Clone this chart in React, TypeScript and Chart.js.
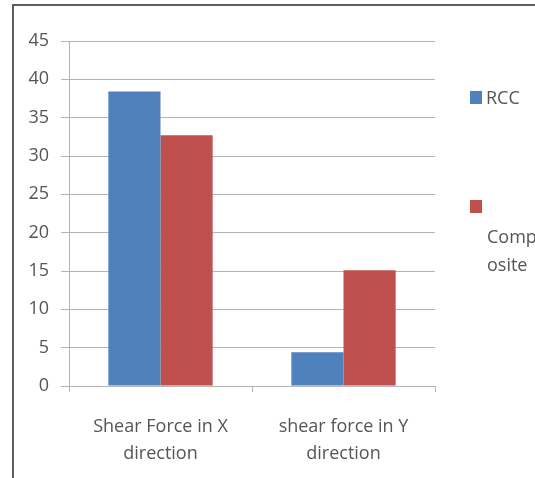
import React, { useEffect, useRef } from "react";
import { Chart, registerables } from "chart.js";

Chart.register(...registerables);

// Shear force comparison, RCC vs composite structure
const categories: string[][] = [
  ["Shear Force in X", "direction"],
  ["shear force in Y", "direction"],
];
const seriesNames = ["RCC", "Composite"];
const rccValues = [38.4, 4.4];
const compositeValues = [32.7, 15.1];
const yMin = 0;
const yMax = 45;
const yStep = 5;

const BLUE = "#4F81BD";
const RED = "#C0504D";
const TEXT = "#555555";
const GRID = "#b4b4b4";
const FONT = "'Open Sans', sans-serif";

// Break a label into lines that fit a maximum width, splitting inside words if needed
function wrapChars(ctx: CanvasRenderingContext2D, text: string, maxWidth: number): string[] {
  const lines: string[] = [];
  let cur = "";
  for (const ch of text) {
    if (cur && ctx.measureText(cur + ch).width > maxWidth) {
      lines.push(cur);
      cur = ch;
    } else {
      cur += ch;
    }
  }
  if (cur) lines.push(cur);
  return lines;
}

const framePlugin = {
  id: "frame",
  beforeDraw(chart: Chart) {
    const ctx = chart.ctx;
    ctx.save();
    ctx.fillStyle = "#ffffff";
    ctx.fillRect(0, 0, chart.width, chart.height);
    ctx.fillStyle = "#5e5e5e";
    ctx.fillRect(12, 4, 2, chart.height - 4);
    ctx.fillRect(12, 4, chart.width - 12, 2);
    ctx.restore();
  },
};

const sideLegendPlugin = {
  id: "sideLegend",
  afterDraw(chart: Chart) {
    const ctx = chart.ctx;
    ctx.save();
    ctx.font = `18px ${FONT}`;
    ctx.textBaseline = "alphabetic";
    ctx.textAlign = "left";
    const x = 470;
    const swatch = 12;
    chart.data.datasets.forEach((ds) => {
      const color = ds.backgroundColor as string;
      const lines = wrapChars(ctx, String(ds.label), 50);
      if (lines.length === 1) {
        const y = 91;
        ctx.fillStyle = color;
        ctx.fillRect(x, y, swatch, swatch + 1);
        ctx.fillStyle = TEXT;
        ctx.fillText(lines[0], x + 16, y + 13);
      } else {
        const y = 200;
        ctx.fillStyle = color;
        ctx.fillRect(x, y, swatch, swatch + 1);
        ctx.fillStyle = TEXT;
        lines.forEach((ln, k) => ctx.fillText(ln, x + 17, 243 + k * 28));
      }
    });
    ctx.restore();
  },
};

export default function App() {
  const ref = useRef<HTMLCanvasElement>(null);

  useEffect(() => {
    if (!ref.current) return;
    const chart = new Chart(ref.current, {
      type: "bar",
      data: {
        labels: categories,
        datasets: [
          { label: seriesNames[0], data: rccValues, backgroundColor: BLUE },
          { label: seriesNames[1], data: compositeValues, backgroundColor: RED },
        ],
      },
      options: {
        animation: false,
        responsive: false,
        maintainAspectRatio: false,
        datasets: { bar: { categoryPercentage: 0.57, barPercentage: 1 } },
        layout: { padding: { left: 14, top: 41, right: 100, bottom: 0 } },
        plugins: { legend: { display: false }, tooltip: { enabled: false } },
        scales: {
          x: {
            offset: true,
            grid: {
              offset: true,
              drawOnChartArea: false,
              drawTicks: true,
              tickLength: 6,
              color: GRID,
            },
            border: { display: true, color: GRID },
            ticks: {
              color: TEXT,
              font: { family: FONT, size: 18, lineHeight: 1.5 },
              padding: 21,
              maxRotation: 0,
              autoSkip: false,
            },
            afterFit(scale: any) {
              scale.height = 92;
            },
          },
          y: {
            min: yMin,
            max: yMax,
            ticks: {
              stepSize: yStep,
              color: TEXT,
              font: { family: FONT, size: 18 },
              padding: 12,
            },
            grid: { color: GRID, tickLength: 8 },
            border: { display: true, color: GRID },
            afterFit(scale: any) {
              scale.width = 55;
            },
          },
        },
      },
      plugins: [framePlugin, sideLegendPlugin],
    });
    return () => chart.destroy();
  }, []);

  return (
    <div style={{ position: "fixed", left: 0, top: 0, width: 535, height: 478 }}>
      <canvas ref={ref} width={535} height={478} style={{ display: "block" }} />
    </div>
  );
}
